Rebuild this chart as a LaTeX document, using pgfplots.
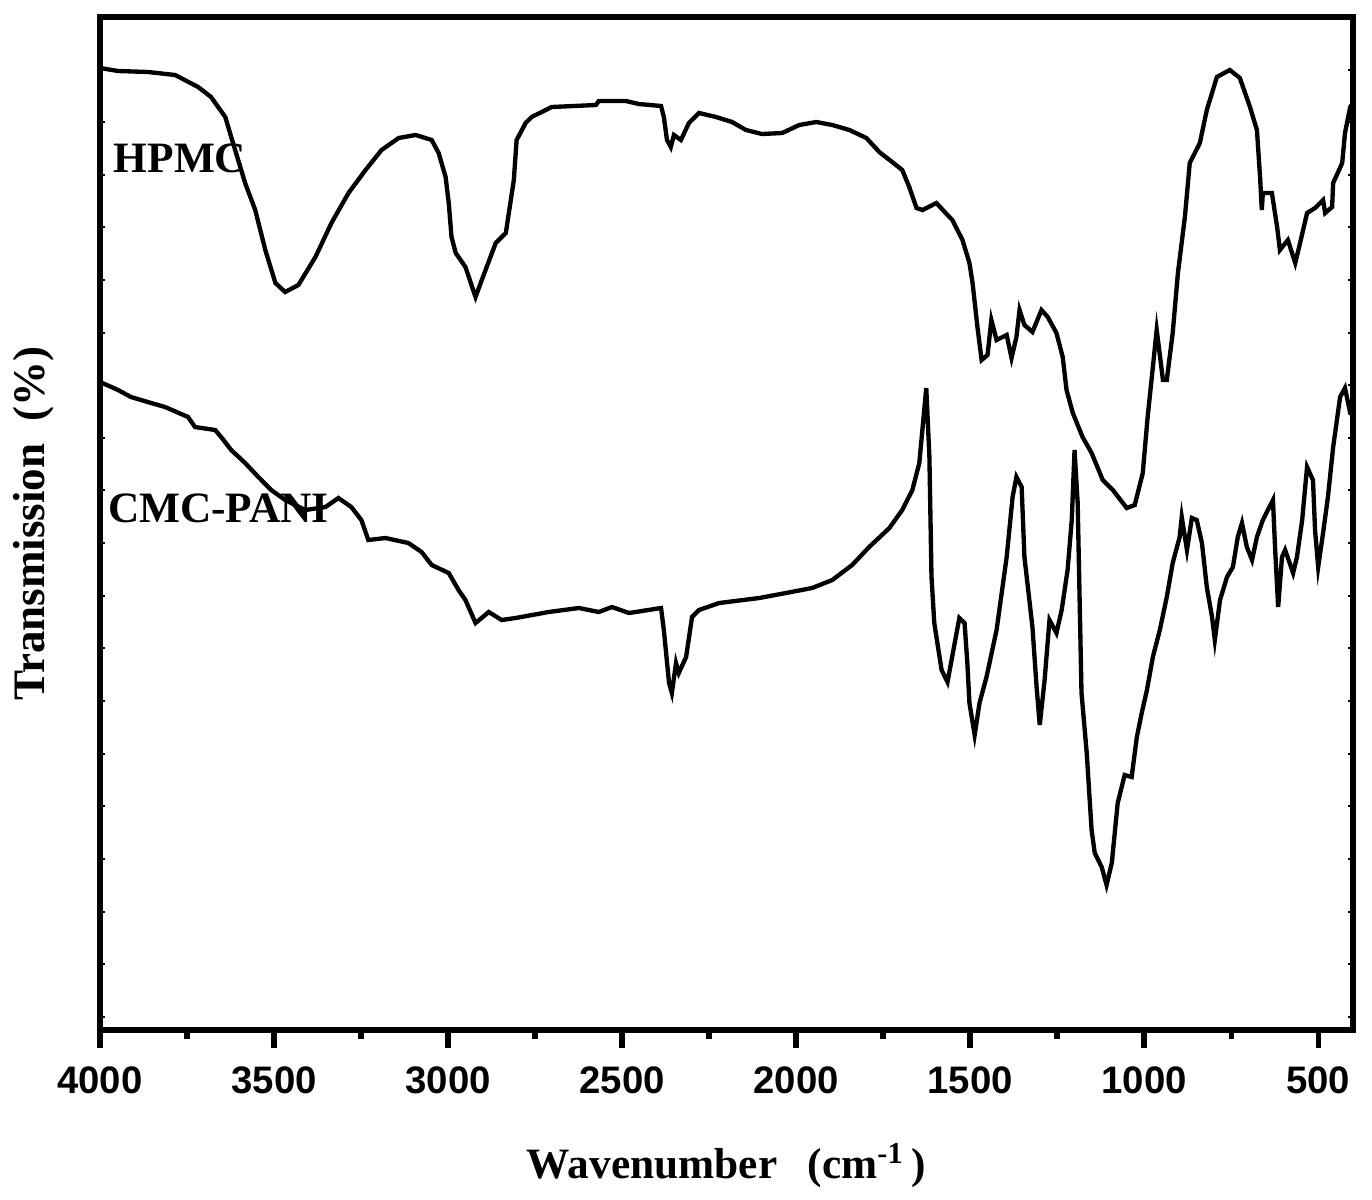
\documentclass[border=0pt]{standalone}
\usepackage{pgfplots}
\pgfplotsset{compat=1.18}
\usepackage{fontspec}
\setmainfont{Liberation Serif}
\setsansfont{Liberation Sans}

\begin{document}
\begin{tikzpicture}
\begin{axis}[
  name=ax,
  scale only axis,
  width=375.9pt, height=303.9pt,
  x dir=reverse,
  xmin=400, xmax=4000,
  ymin=0, ymax=1013,
  axis line style={line width=1.8pt},
  xtick={4000,3500,...,500},
  minor x tick num=1,
  xtick pos=bottom,
  xtick align=outside,
  ytick align=inside,
  ytick pos=both,
  ytick={13,66,118,171,224,276,329,382,434,487,540,592,645,697,750,803,855,908,960},
  yticklabels={},
  major tick length=5.5pt,
  minor tick length=2.8pt,
  xtick style={line width=1.6pt, black},
  ytick style={line width=0.6pt, black, /pgfplots/major tick length=1.5pt},
  /pgf/number format/assume math mode=true,
  /pgf/number format/set thousands separator={},
  x tick label style={font=\fontsize{11.5}{12}\selectfont\sffamily\bfseries, yshift=-2pt},
  xlabel={Wavenumber\hspace{0.7em}(cm\textsuperscript{-1}\,)},
  xlabel style={at={(axis description cs:0.5,-0.134)}, anchor=center, font=\fontsize{13}{14}\selectfont\bfseries},
  ylabel={Transmission\ \ (\%)},
  ylabel style={at={(axis description cs:-0.053,0.5)}, anchor=center, font=\fontsize{13.5}{14}\selectfont\bfseries},
]
% HPMC
\addplot[black, line width=1.3pt] coordinates {
(4000,962) (3948,959) (3862,958) (3784,955) (3718,943) (3681,933) (3640,913) (3623,893)
(3603,870) (3583,847) (3554,820) (3525,780) (3496,747) (3468,738) (3430,745) (3381,773)
(3335,807) (3286,837) (3237,860) (3191,880) (3142,892) (3093,895) (3047,890) (3027,877)
(3007,853) (2998,827) (2990,793) (2978,777) (2950,763) (2921,733) (2903,750) (2863,787)
(2834,797) (2811,850) (2803,890) (2777,907) (2760,913) (2702,923) (2575,925) (2567,929)
(2489,929) (2452,926) (2388,924) (2380,913) (2371,890) (2360,883) (2351,895) (2331,890)
(2308,907) (2279,917) (2230,913) (2184,908) (2144,900) (2098,896) (2040,897) (1991,905)
(1942,908) (1896,905) (1847,900) (1798,892) (1761,878) (1724,868) (1695,860) (1675,843)
(1654,822) (1637,820) (1597,827) (1565,815) (1551,810) (1522,790) (1502,767) (1493,747)
(1479,703) (1467,670) (1450,675) (1439,710) (1424,690) (1395,695) (1381,672) (1367,693)
(1358,720) (1344,705) (1321,698) (1295,720) (1277,713) (1252,697) (1234,673) (1223,640)
(1205,617) (1177,593) (1151,577) (1119,550) (1090,540) (1050,522) (1027,525) (1004,557)
(990,613) (975,663) (964,700) (946,650) (935,650) (918,697) (903,757) (883,813)
(869,867) (840,887) (820,920) (791,953) (754,960) (725,952) (696,923) (676,900)
(667,853) (662,820) (659,837) (633,837) (618,803) (610,780) (587,790) (566,767)
(552,787) (532,817) (509,822) (486,830) (480,817) (460,823) (457,847) (431,867)
(423,897) (408,923) (400,927)
};
% CMC-PANI
\addplot[black, line width=1.3pt] coordinates {
(4000,648) (3948,640) (3911,633) (3853,627) (3813,623) (3747,613) (3727,603) (3669,600)
(3652,593) (3623,580) (3583,567) (3545,553) (3508,540) (3468,530) (3410,520) (3352,523)
(3315,532) (3278,523) (3249,510) (3229,490) (3180,492) (3114,487) (3076,478) (3047,465)
(2998,457) (2970,440) (2950,430) (2921,407) (2883,418) (2846,410) (2806,412) (2711,418)
(2624,422) (2567,418) (2529,423) (2480,417) (2388,422) (2380,400) (2365,347) (2357,337)
(2345,367) (2337,357) (2316,373) (2299,413) (2279,420) (2221,427) (2106,432) (2029,437)
(1954,442) (1896,450) (1839,465) (1790,483) (1732,502) (1695,520) (1666,540) (1646,567)
(1626,642) (1617,573) (1611,453) (1603,407) (1582,360) (1565,348) (1531,412) (1516,407)
(1508,367) (1502,327) (1487,295) (1473,327) (1453,353) (1424,400) (1395,473) (1378,533)
(1367,553) (1352,543) (1344,473) (1321,403) (1309,343) (1300,305) (1286,350) (1272,410)
(1252,397) (1237,420) (1220,460) (1208,510) (1200,580) (1191,527) (1180,337) (1165,277)
(1151,200) (1142,177) (1122,163) (1108,145) (1093,167) (1076,227) (1056,255) (1036,253)
(1021,293) (1007,317) (992,340) (975,373) (955,400) (935,433) (918,467) (898,493)
(892,513) (877,480) (863,512) (849,510) (834,487) (820,443) (805,413) (797,390)
(782,430) (762,453) (745,463) (731,493) (719,507) (705,483) (690,470) (676,493)
(659,510) (630,530) (624,483) (615,423) (604,473) (595,480) (572,457) (561,473)
(546,510) (532,563) (515,550) (509,500) (500,463) (486,497) (472,533) (457,583)
(437,633) (423,642) (408,617) (400,615)
};
\node[font=\fontsize{13}{14}\selectfont\bfseries] at (axis cs:3770,872) {HPMC};
\node[font=\fontsize{13}{14}\selectfont\bfseries] at (axis cs:3660,522) {CMC-PANI};
\end{axis}
\pgfresetboundingbox
\path ([shift={(-30pt,-50.7pt)}]ax.south west) rectangle ([shift={(5.7pt,5.1pt)}]ax.north east);
\end{tikzpicture}
\end{document}
